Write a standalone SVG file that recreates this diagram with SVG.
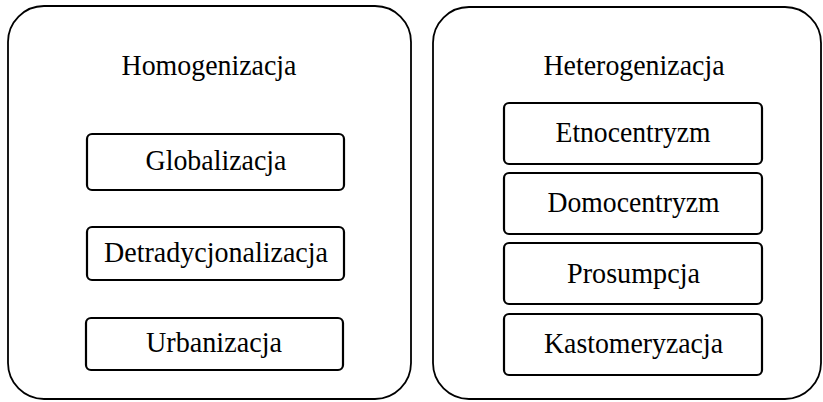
<svg xmlns="http://www.w3.org/2000/svg" width="823" height="402" viewBox="0 0 823 402">
<style>
.outer{fill:#fff;stroke:#000;stroke-width:1.8}
.inner{fill:#fff;stroke:#000;stroke-width:2.2}
text{font-family:"Liberation Serif","Times New Roman",serif;font-size:30px;fill:#000;text-anchor:middle}
</style>
<rect width="823" height="402" fill="#fff"/>
<g id="homogenizacja">
<rect class="outer" x="8" y="6" width="403" height="393" rx="36" ry="36"/>
<text x="209" y="75" textLength="175" lengthAdjust="spacingAndGlyphs">Homogenizacja</text>
</g>
<g id="globalizacja">
<rect class="inner" x="87" y="134" width="257" height="56" rx="5"/>
<text x="216" y="170" textLength="141" lengthAdjust="spacingAndGlyphs">Globalizacja</text>
</g>
<g id="detradycjonalizacja">
<rect class="inner" x="87" y="227" width="257" height="53" rx="5"/>
<text x="216" y="262" textLength="224" lengthAdjust="spacingAndGlyphs">Detradycjonalizacja</text>
</g>
<g id="urbanizacja">
<rect class="inner" x="86" y="318" width="257" height="52" rx="5"/>
<text x="214" y="352" textLength="136" lengthAdjust="spacingAndGlyphs">Urbanizacja</text>
</g>
<g id="heterogenizacja">
<rect class="outer" x="433" y="7" width="388" height="392" rx="36" ry="36"/>
<text x="634" y="75" textLength="181" lengthAdjust="spacingAndGlyphs">Heterogenizacja</text>
</g>
<g id="etnocentryzm">
<rect class="inner" x="504" y="103" width="258" height="61" rx="5"/>
<text x="633" y="142" textLength="155" lengthAdjust="spacingAndGlyphs">Etnocentryzm</text>
</g>
<g id="domocentryzm">
<rect class="inner" x="504" y="173" width="258" height="61" rx="5"/>
<text x="633.5" y="212" textLength="172" lengthAdjust="spacingAndGlyphs">Domocentryzm</text>
</g>
<g id="prosumpcja">
<rect class="inner" x="504" y="243" width="258" height="61" rx="5"/>
<text x="633.5" y="283" textLength="133" lengthAdjust="spacingAndGlyphs">Prosumpcja</text>
</g>
<g id="kastomeryzacja">
<rect class="inner" x="504" y="314" width="258" height="61" rx="5"/>
<text x="633.5" y="353" textLength="179" lengthAdjust="spacingAndGlyphs">Kastomeryzacja</text>
</g>
<g id="connectors"></g>
</svg>
